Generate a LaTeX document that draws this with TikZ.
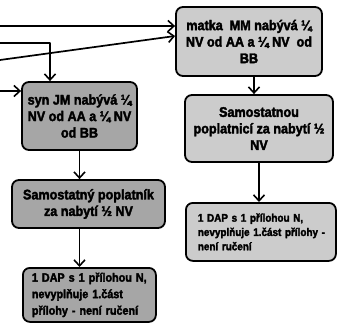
\documentclass[tikz,border=0pt]{standalone}
\usepackage{fontspec}
\newfontfamily\heavy{Liberation Sans}[UprightFont={*/B}, FakeBold=2.5, FakeStretch=0.9]
\usetikzlibrary{arrows.meta, positioning, calc}
\definecolor{boxLight}{RGB}{204,204,204}
\definecolor{boxDark}{RGB}{166,166,166}
\tikzset{
    flow/.style={>={Straight Barb[length=6pt, width=11pt, line width=1.6pt]},
                 line cap=round, line join=round,
                 font=\heavy\fontsize{14}{16.5}\selectfont},
    box/.style={draw=black, line width=1.8pt, rounded corners=7pt,
                align=center, inner sep=2pt},
    lightbox/.style={box, fill=boxLight},
    darkbox/.style={box, fill=boxDark},
    arrow/.style={->, line width=1.7pt, draw=black},
}

\begin{document}
\begin{tikzpicture}[flow, x=1pt, y=-1pt]
\useasboundingbox (0,0) rectangle (337,323);

% ─── Pravá větev ─────────────────────────────────────────────────────
\node[lightbox, minimum width=146pt, minimum height=69pt] (matka) at (249,41.5)
    {matka\ \ MM nabývá ¼\\NV od AA a ¼ NV\ \ od\\BB};
\node[lightbox, minimum width=148pt, minimum height=67pt] (samaR) at (259,128.5)
    {Samostatnou\\poplatnicí za nabytí ½\\NV};
\node[lightbox, minimum width=150pt, minimum height=58pt,
      font=\heavy\fontsize{11}{14.3}\selectfont, align=left,
      text width=132pt, inner xsep=9pt, anchor=north west] (dapR) at (185,202)
    {\hspace*{3pt}1 DAP s 1 přílohou N,\\\hspace*{3pt}nevyplňuje 1.část přílohy -\\\hspace*{3pt}není ručení};

% ─── Levá větev ──────────────────────────────────────────────────────
\node[darkbox, minimum width=115pt, minimum height=68pt] (syn) at (79.5,116)
    {syn JM nabývá ¼\\NV od AA a ¼ NV\\od BB};
\node[darkbox, minimum width=153pt, minimum height=48pt] (samaL) at (88.5,204)
    {Samostatný poplatník\\za nabytí ½ NV};
\node[darkbox, minimum width=133pt, minimum height=54pt,
      font=\heavy\fontsize{12}{16.5}\selectfont, align=left,
      text width=121pt, inner xsep=6pt, anchor=north west] (dapL) at (22,267)
    {\hspace*{3pt}1 DAP s 1 přílohou N,\\\hspace*{3pt}nevyplňuje 1.část\\\hspace*{3pt}přílohy - není ručení};

% ─── Vstupy zleva ────────────────────────────────────────────────────
\coordinate (in1) at (0,26);
\coordinate (in2) at (0,43);
\coordinate (in3) at (0,60);
\coordinate (in4) at (0,91);
\coordinate (bend) at (50,43);

\draw[arrow] (in1) -- (matka.west |- in1);
\draw[arrow] (in2) -- (bend) -- (bend |- syn.north);
\draw[arrow] (in3) -- ($(matka.west)+(0,-5.5)$);
\draw[arrow] (in4) -- (syn.west |- in4);

% ─── Šipky dolů ──────────────────────────────────────────────────────
\draw[arrow] ($(matka.south)+(5,0)$) -- ($(samaR.north)+(-5,0)$);
\draw[arrow] (samaR.south) -- (samaR.south |- dapR.north);
\draw[arrow] (syn.south) -- (syn.south |- samaL.north);
\draw[arrow] (syn.south |- samaL.south) -- (syn.south |- dapL.north);

\end{tikzpicture}
\end{document}
